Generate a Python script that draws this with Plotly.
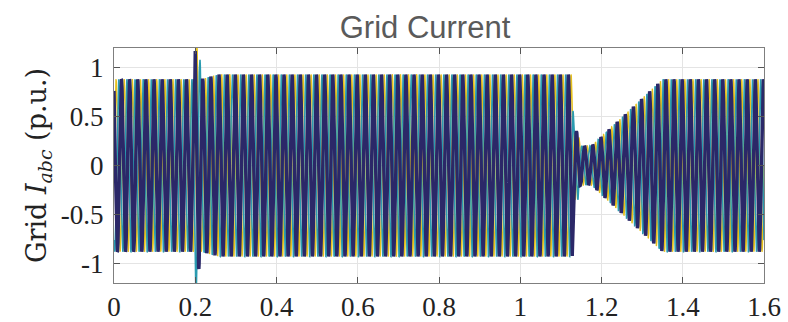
import numpy as np
import plotly.graph_objects as go

# ---- data ----
grid_freq_hz = 50.0
phase_shifts_deg = [0, -120, 120]
phase_names = ["Ia", "Ib", "Ic"]
phase_colors = ["#e6c01c", "#2a9bb0", "#2b2868"]

# peak-current envelope breakpoints (s, p.u.)
env_time = [0.0, 0.199, 0.2, 0.204, 0.206, 0.209, 0.212, 0.214, 0.24, 0.26,
            1.128, 1.132, 1.142, 1.148, 1.175, 1.35, 1.6]
env_amp = [0.88, 0.88, 1.35, 1.35, 0.90, 1.08, 1.08, 0.88, 0.91, 0.93,
           0.93, 0.35, 0.35, 0.20, 0.20, 0.88, 0.88]

x_ticks = [0, 0.2, 0.4, 0.6, 0.8, 1.0, 1.2, 1.4, 1.6]
x_tick_text = ["0", "0.2", "0.4", "0.6", "0.8", "1", "1.2", "1.4", "1.6"]
y_ticks = [-1, -0.5, 0, 0.5, 1]
y_tick_text = ["-1", "-0.5", "0", "0.5", "1"]

# ---- build the waveform ----
t = np.arange(0.0, 1.6 + 1e-9, 0.0001)
amp = np.interp(t, env_time, env_amp)

fig = go.Figure()
for name, shift, color, w in zip(phase_names, phase_shifts_deg, phase_colors, [1.4, 1.6, 3.4]):
    y = amp * np.sin(2 * np.pi * grid_freq_hz * t + np.deg2rad(shift))
    fig.add_trace(go.Scatter(x=t, y=y, mode="lines", name=name,
                             line=dict(color=color, width=w)))

serif = "Liberation Serif, DejaVu Serif, serif"
axis_common = dict(
    showline=True, linecolor="#7f7f7f", linewidth=1, mirror="allticks",
    ticks="inside", ticklen=6, tickcolor="#555555", automargin=False,
    showgrid=True, gridcolor="#e4e4e4", gridwidth=1, zeroline=False,
    tickfont=dict(family=serif, size=27, color="#222222"),
)

fig.update_layout(
    width=788, height=322,
    margin=dict(l=114, r=24, t=48, b=39),
    paper_bgcolor="white", plot_bgcolor="white",
    showlegend=False,
    title=dict(text="Grid Current", x=425 / 788, xanchor="center",
               y=1 - 27 / 322, yanchor="middle", xref="container", yref="container",
               font=dict(family="Liberation Sans, Arial, sans-serif", size=31, color="#5a5a5a")),
    xaxis=dict(range=[0, 1.6], tickvals=x_ticks, ticktext=x_tick_text,
               ticklabelstandoff=0, **axis_common),
    yaxis=dict(range=[-1.2, 1.2], tickvals=y_ticks, ticktext=y_tick_text,
               ticklabelstandoff=4,
               title=dict(text="Grid <i>I</i><sub><i>abc</i></sub> (p.u.)",
                          font=dict(family="DejaVu Serif, serif", size=27, color="#222222"),
                          standoff=6),
               **axis_common),
)

fig.write_html("out.html")
